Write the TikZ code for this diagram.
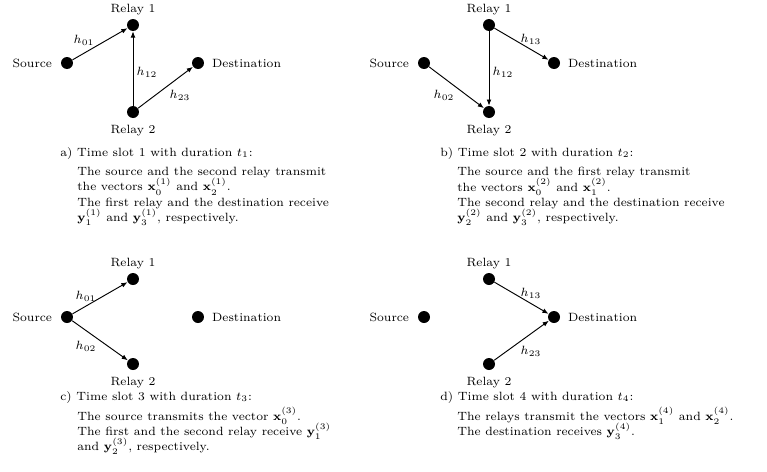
\documentclass[tikz,border=0pt]{standalone}
\usetikzlibrary{arrows.meta}
\begin{document}
\begin{tikzpicture}[x=0.584pt,y=-0.584pt,
  every node/.style={font={\fontsize{7}{8.9}\selectfont\lineskiplimit=-20pt}},
  dot/.style={circle,fill=black,inner sep=0pt,minimum size=7pt},
  link/.style={-{Latex[length=3.6pt,width=2.8pt]},line width=0.55pt},
  elab/.style={inner sep=0pt},
  ttl/.style={anchor=west,inner sep=0pt},
  body/.style={anchor=north west,align=left,inner sep=0pt},
  lleft/.style={label={[label distance=1.5pt,name=#1]left:Source}},
  lup/.style={label={[label distance=-1.5pt,name=#1]above:Relay 1}},
  ldown/.style={label={[label distance=0.5pt,name=#1]below:Relay 2}},
  lright/.style={label={[label distance=1pt,name=#1]right:Destination}}]
\useasboundingbox (0,0) rectangle (767,471);

% ---------- panel a ----------
\node[dot,lleft=aSl]  (aS)  at (67,63) {};
\node[dot,lup=aR1l]   (aR1) at (133,25) {};
\node[dot,ldown=aR2l] (aR2) at (133,112) {};
\node[dot,lright=aDl] (aD)  at (198,63) {};
\draw[link] (aS) -- (aR1);
\draw[link] (aR2) -- (aR1);
\draw[link] (aR2) -- (aD);
\node[elab] (ah01) at (84,40) {$h_{01}$};
\node[elab] (ah12) at (147,72) {$h_{12}$};
\node[elab] (ah23) at (180,95) {$h_{23}$};
\node[ttl] (aT) at (60,153) {a) Time slot 1 with duration $t_1$:};
\node[body] (aB) at (77,167) {The source and the second relay transmit\\
the vectors $\mathbf{x}_0^{(1)}$ and $\mathbf{x}_2^{(1)}$.\\
The first relay and the destination receive\\
$\mathbf{y}_1^{(1)}$ and $\mathbf{y}_3^{(1)}$, respectively.};

% ---------- panel b ----------
\node[dot,lleft=bSl]  (bS)  at (424,63) {};
\node[dot,lup=bR1l]   (bR1) at (489,25) {};
\node[dot,ldown=bR2l] (bR2) at (489,112) {};
\node[dot,lright=bDl] (bD)  at (554,63) {};
\draw[link] (bS) -- (bR2);
\draw[link] (bR1) -- (bR2);
\draw[link] (bR1) -- (bD);
\node[elab] (bh13) at (531,39) {$h_{13}$};
\node[elab] (bh12) at (503,72) {$h_{12}$};
\node[elab] (bh02) at (444,95) {$h_{02}$};
\node[ttl] (bT) at (440,153) {b) Time slot 2 with duration $t_2$:};
\node[body] (bB) at (457,167) {The source and the first relay transmit\\
the vectors $\mathbf{x}_0^{(2)}$ and $\mathbf{x}_1^{(2)}$.\\
The second relay and the destination receive\\
$\mathbf{y}_2^{(2)}$ and $\mathbf{y}_3^{(2)}$, respectively.};

% ---------- panel c ----------
\node[dot,lleft=cSl]  (cS)  at (67,317) {};
\node[dot,lup=cR1l]   (cR1) at (133,279) {};
\node[dot,ldown=cR2l] (cR2) at (133,364) {};
\node[dot,lright=cDl] (cD)  at (198,317) {};
\draw[link] (cS) -- (cR1);
\draw[link] (cS) -- (cR2);
\node[elab] (ch01) at (86,296) {$h_{01}$};
\node[elab] (ch02) at (86,346) {$h_{02}$};
\node[ttl] (cT) at (60,397) {c) Time slot 3 with duration $t_3$:};
\node[body] (cB) at (77,407) {The source transmits the vector $\mathbf{x}_0^{(3)}$.\\
The first and the second relay receive $\mathbf{y}_1^{(3)}$\\
and $\mathbf{y}_2^{(3)}$, respectively.};

% ---------- panel d ----------
\node[dot,lleft=dSl]  (dS)  at (424,317) {};
\node[dot,lup=dR1l]   (dR1) at (489,279) {};
\node[dot,ldown=dR2l] (dR2) at (489,364) {};
\node[dot,lright=dDl] (dD)  at (554,317) {};
\draw[link] (dR1) -- (dD);
\draw[link] (dR2) -- (dD);
\node[elab] (dh13) at (531,293) {$h_{13}$};
\node[elab] (dh23) at (531,351) {$h_{23}$};
\node[ttl] (dT) at (440,397) {d) Time slot 4 with duration $t_4$:};
\node[body] (dB) at (457,407) {The relays transmit the vectors $\mathbf{x}_1^{(4)}$ and $\mathbf{x}_2^{(4)}$.\\
The destination receives $\mathbf{y}_3^{(4)}$.};
\end{tikzpicture}
\end{document}
